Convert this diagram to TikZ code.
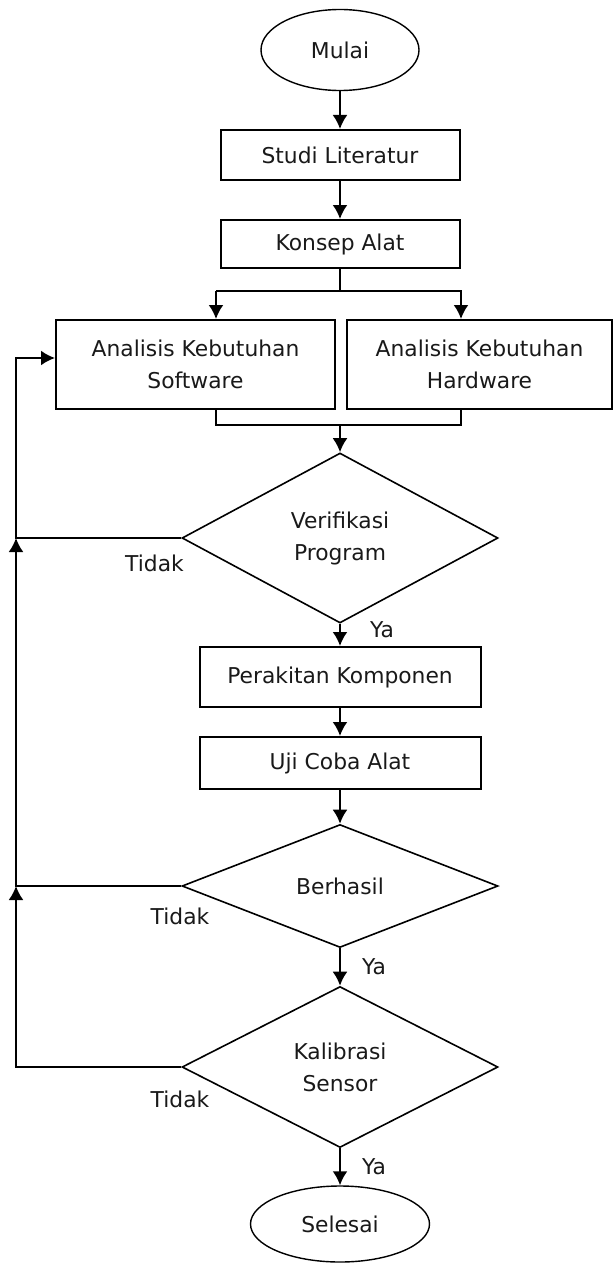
\documentclass[tikz,border=0pt]{standalone}
\usepackage{fontspec}
\setmainfont{DejaVu Sans}
\usetikzlibrary{shapes.geometric,arrows.meta}

\begin{document}
\begin{tikzpicture}[>={Latex[length=7pt,width=7.5pt]},x=0.5pt,y=-0.5pt,
	every node/.style={font=\fontsize{10.9}{16}\selectfont,align=center,text=black!90},
	proses/.style={draw,line width=1pt,rectangle,inner sep=0pt},
	keputusan/.style={draw,line width=0.8pt,diamond,inner sep=0pt,aspect=2},
	terminal/.style={draw,line width=0.7pt,ellipse,inner sep=0pt},
	alur/.style={line width=1.1pt}]
	%	\draw[color=gray,dash pattern=on 1pt off 1pt,step=20] (0,0) grid (614,1263);
	\useasboundingbox (0,0) rectangle (614,1263);
	\node[terminal,minimum width=79pt,minimum height=40.5pt] (mulai) at (340,50) {Mulai};
	\node[proses,minimum width=119.5pt,minimum height=25pt] (studi) at (340,155) {Studi Literatur};
	\node[proses,minimum width=119.5pt,minimum height=24pt] (konsep) at (340,244) {Konsep Alat};
	\node[proses,minimum width=139.5pt,minimum height=44.5pt] (soft) at (195.5,364.5) {Analisis Kebutuhan\\Software};
	\node[proses,minimum width=132.5pt,minimum height=44.5pt] (hard) at (479.5,364.5) {Analisis Kebutuhan\\Hardware};
	\node[keputusan,minimum width=158pt,minimum height=85pt] (verif) at (340,538) {Verifikasi\\Program};
	\node[proses,minimum width=140.5pt,minimum height=30pt] (rakit) at (340,677) {Perakitan Komponen};
	\node[proses,minimum width=140.5pt,minimum height=26pt] (uji) at (340,763) {Uji Coba Alat};
	\node[keputusan,minimum width=158pt,minimum height=61.5pt] (hasil) at (340,886) {Berhasil};
	\node[keputusan,minimum width=158pt,minimum height=80.5pt] (kalib) at (340,1067) {Kalibrasi\\Sensor};
	\node[terminal,minimum width=89.5pt,minimum height=38pt] (selesai) at (340,1224) {Selesai};
	% label ya / tidak
	\node (tidak1) at (154.5,563) {Tidak};
	\node (tidak2) at (180,916) {Tidak};
	\node (tidak3) at (180,1099) {Tidak};
	\node (ya1) at (382,630) {Ya};
	\node (ya2) at (374,967) {Ya};
	\node (ya3) at (374,1167) {Ya};
	% titik bantu
	\coordinate (cabang) at (340,291);
	\coordinate (cabangL) at (216,291);
	\coordinate (cabangR) at (461,291);
	\coordinate (gabungL) at (216,425);
	\coordinate (gabungR) at (461,425);
	\coordinate (balik) at (16,358);
	% alur utama
	\draw[alur,->] (mulai) -- (studi);
	\draw[alur,->] (studi) -- (konsep);
	\draw[alur] (konsep) -- (cabang);
	\draw[alur,->] (cabangL) -- (cabangR) -- (cabangR |- hard.north);
	\draw[alur,->] (cabangL) -- (cabangL |- soft.north);
	\draw[alur] (gabungL |- soft.south) -- (gabungL) -- (gabungR) -- (gabungR |- hard.south);
	\draw[alur,->] (verif.north |- gabungL) -- (verif);
	\draw[alur,->] (verif) -- (rakit);
	\draw[alur,->] (rakit) -- (uji);
	\draw[alur,->] (uji) -- (hasil);
	\draw[alur,->] (hasil) -- (kalib);
	\draw[alur,->] (kalib) -- (selesai);
	% alur balik (tidak)
	\draw[alur,->] (kalib.west) -- (kalib.west -| balik) -- (hasil.west -| balik);
	\draw[alur,->] (hasil.west) -- (hasil.west -| balik) -- (verif.west -| balik);
	\draw[alur,->] (verif.west) -- (verif.west -| balik) -- (balik) -- (balik -| soft.west);
\end{tikzpicture}
\end{document}
